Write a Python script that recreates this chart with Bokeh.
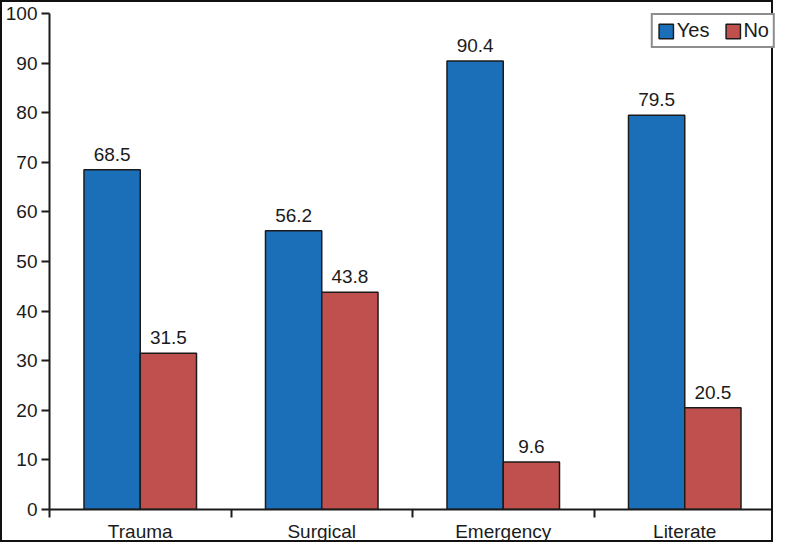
from bokeh.plotting import figure
from bokeh.models import ColumnDataSource, FixedTicker, Range1d, Legend, LegendItem, LabelSet
from bokeh.core.properties import value
from bokeh.embed import file_html
from bokeh.resources import INLINE

categories = ["Trauma", "Surgical", "Emergency", "Literate"]
yes_vals = [68.5, 56.2, 90.4, 79.5]
no_vals = [31.5, 43.8, 9.6, 20.5]
yticks = [0, 10, 20, 30, 40, 50, 60, 70, 80, 90, 100]

FONT = "Liberation Sans"
FS = "19px"
BW = 0.31

centers = [i + 0.5 for i in range(len(categories))]
src_yes = ColumnDataSource(dict(x=[c - BW / 2 for c in centers], top=yes_vals,
                                lab=[f"{v:.1f}" for v in yes_vals]))
src_no = ColumnDataSource(dict(x=[c + BW / 2 for c in centers], top=no_vals,
                               lab=[f"{v:.1f}" for v in no_vals]))

p = figure(width=773, height=542, output_backend="svg", toolbar_location=None,
           x_range=Range1d(0, 4), y_range=Range1d(0, 100),
           min_border_left=45, min_border_right=0, min_border_top=11, min_border_bottom=20)
p.styles = {"border": "2px solid #111", "box-sizing": "border-box"}
p.outline_line_color = None
p.xgrid.visible = False
p.ygrid.visible = False

r_yes = p.vbar(x="x", top="top", width=BW, bottom=0, source=src_yes,
               fill_color="#1a6fb8", line_color="#1b1b1b", line_width=1.5)
r_no = p.vbar(x="x", top="top", width=BW, bottom=0, source=src_no,
              fill_color="#c0504d", line_color="#1b1b1b", line_width=1.5)

for src in (src_yes, src_no):
    p.add_layout(LabelSet(x="x", y="top", text="lab", source=src, text_align="center",
                          text_baseline="bottom", y_offset=9, text_font=value(FONT),
                          text_font_size=value(FS), text_color="#1b1b1b"))

# y axis
p.yaxis.ticker = FixedTicker(ticks=yticks)
p.yaxis.axis_line_width = 2
p.yaxis.axis_line_color = "#1b1b1b"
p.yaxis.major_tick_in = 0
p.yaxis.major_tick_out = 8
p.yaxis.major_tick_line_width = 2
p.yaxis.major_tick_line_color = "#1b1b1b"
p.yaxis.minor_tick_line_color = None
p.yaxis.major_label_text_font = FONT
p.yaxis.major_label_text_font_size = FS
p.yaxis.major_label_text_color = "#1b1b1b"
p.yaxis.major_label_standoff = 4

# x axis: category labels at centres, ticks at boundaries
p.xaxis.ticker = FixedTicker(ticks=centers, minor_ticks=list(range(len(categories) + 1)))
p.xaxis.major_label_overrides = {c: n for c, n in zip(centers, categories)}
p.xaxis.axis_line_width = 2
p.xaxis.axis_line_color = "#1b1b1b"
p.xaxis.major_tick_line_color = None
p.xaxis.major_tick_out = 0
p.xaxis.major_tick_in = 0
p.xaxis.minor_tick_in = 0
p.xaxis.minor_tick_out = 8
p.xaxis.minor_tick_line_width = 2
p.xaxis.minor_tick_line_color = "#1b1b1b"
p.xaxis.major_label_text_font = FONT
p.xaxis.major_label_text_font_size = FS
p.xaxis.major_label_text_color = "#1b1b1b"
p.xaxis.major_label_standoff = 3

legend = Legend(items=[LegendItem(label="Yes", renderers=[r_yes]),
                       LegendItem(label="No", renderers=[r_no])],
                orientation="horizontal", location="top_right",
                label_text_font=FONT, label_text_font_size="20px",
                label_text_color="#1b1b1b",
                border_line_color="#1b1b1b", border_line_width=2,
                glyph_width=18, glyph_height=18, spacing=14, label_standoff=2,
                padding=4, margin=0, background_fill_alpha=1)
p.add_layout(legend)

open("out.html", "w").write(file_html(p, INLINE))
